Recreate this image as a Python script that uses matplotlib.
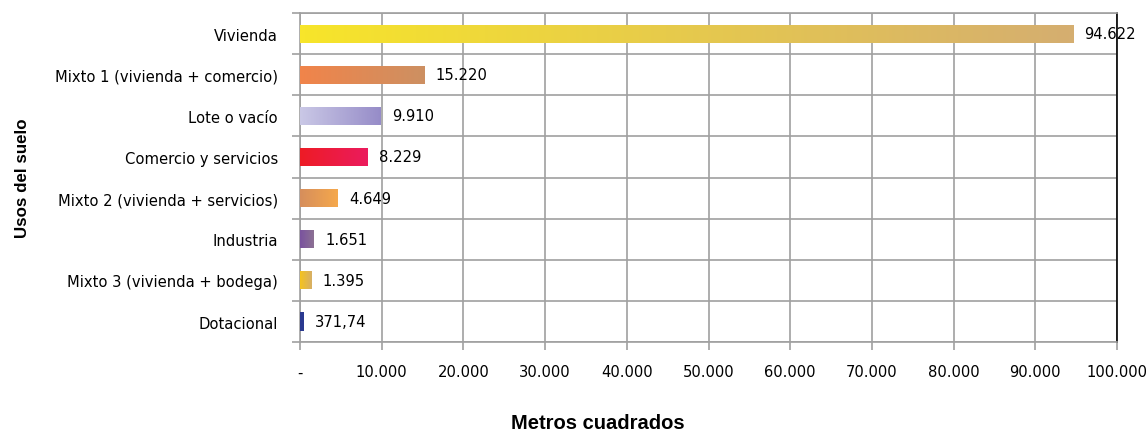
import numpy as np
import matplotlib.pyplot as plt
from matplotlib.colors import LinearSegmentedColormap

plt.rcParams['font.family'] = ['DejaVu Sans']
plt.rcParams['font.stretch'] = 'condensed'

categorias = ['Vivienda', 'Mixto 1 (vivienda + comercio)', 'Lote o vacío',
              'Comercio y servicios', 'Mixto 2 (vivienda + servicios)',
              'Industria', 'Mixto 3 (vivienda + bodega)', 'Dotacional']
metros = [94622, 15220, 9910, 8229, 4649, 1651, 1395, 371.74]
etiquetas = ['94.622', '15.220', '9.910', '8.229', '4.649', '1.651', '1.395', '371,74']
# colores de degradado (izquierda, derecha) para cada barra
colores = [('#F7E52A', '#D5AE70'), ('#F1844A', '#CD9062'), ('#CAC8E6', '#968CC8'),
           ('#EE1C25', '#EB1B5E'), ('#D68E5C', '#F5A84C'), ('#7A529F', '#8C7193'),
           ('#F5C31E', '#D7AF66'), ('#2B3990', '#2B3990')]
xticks = [0, 10000, 20000, 30000, 40000, 50000, 60000, 70000, 80000, 90000, 100000]
xticklabels = ['-', '10.000', '20.000', '30.000', '40.000', '50.000', '60.000',
               '70.000', '80.000', '90.000', '100.000']

fig = plt.figure(figsize=(11.46, 4.31), dpi=100)
ax = fig.add_axes([0.2618, 0.204, 0.7129, 0.7635])

n = len(categorias)
ypos = np.arange(n)
bars = ax.barh(ypos, metros, height=0.44, color='none', edgecolor='none', zorder=3)

grad = np.linspace(0, 1, 256).reshape(1, -1)
for bar, (c1, c2), lab in zip(bars, colores, etiquetas):
    x0, y0 = bar.get_x(), bar.get_y()
    w, h = bar.get_width(), bar.get_height()
    cmap = LinearSegmentedColormap.from_list('g', [c1, c2])
    im = ax.imshow(grad, cmap=cmap, aspect='auto', extent=(x0, x0 + w, y0, y0 + h),
                   zorder=3, interpolation='bicubic')
    im.set_clip_path(bar)
    ax.text(x0 + w + 1400, y0 + h / 2, lab, va='center', ha='left', fontsize=11.8, zorder=4)

ax.set_xlim(0, 100000)
ax.set_ylim(n - 0.5, -0.5)
ax.set_yticks(ypos)
ax.set_yticklabels(categorias, fontsize=11.8)
ax.set_yticks(np.arange(-0.5, n), minor=True)
ax.tick_params(axis='y', which='major', length=0, pad=16)
ax.tick_params(axis='y', which='minor', length=6, color='#A0A0A0', width=1.2)
ax.set_xticks(xticks)
ax.set_xticklabels(xticklabels, fontsize=11.8)
ax.tick_params(axis='x', length=6, color='#A0A0A0', width=1.2, pad=10)

ax.grid(axis='x', color='#A0A0A0', linewidth=1.2, zorder=1)
ax.grid(axis='y', which='minor', color='#A0A0A0', linewidth=1.2, zorder=1)
ax.set_axisbelow(True)
for s in ['left', 'bottom', 'top']:
    ax.spines[s].set_color('#A0A0A0')
    ax.spines[s].set_linewidth(1.2)
ax.spines['right'].set_color('black')
ax.spines['right'].set_linewidth(1.2)

ax.set_xlabel('Metros cuadrados', fontsize=14.5, fontweight='bold',
              family='Liberation Sans', fontstretch='normal')
ax.xaxis.set_label_coords(0.365, -0.215)
ax.set_ylabel('Usos del suelo', fontsize=12.2, fontweight='bold',
              family='Liberation Sans', fontstretch='normal')
ax.yaxis.set_label_coords(-0.331, 0.5)

fig.savefig('out.png', dpi=100)
